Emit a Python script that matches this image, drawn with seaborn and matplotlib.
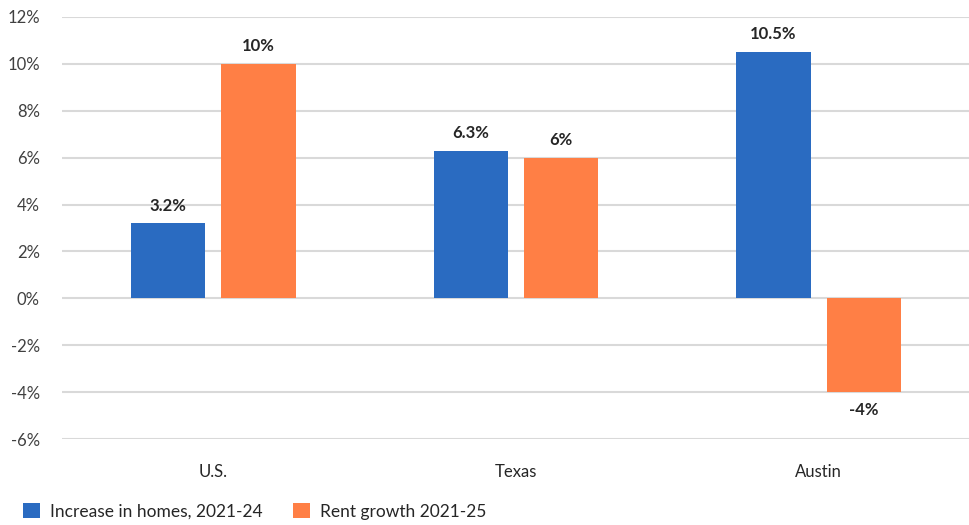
import matplotlib
matplotlib.use("Agg")
import matplotlib.pyplot as plt
import seaborn as sns
import pandas as pd
from matplotlib.patches import Patch

regions = ["U.S.", "Texas", "Austin"]
series_names = ["Increase in homes, 2021-24", "Rent growth 2021-25"]
homes = [3.2, 6.3, 10.5]
rent = [10, 6, -4]
homes_labels = ["3.2%", "6.3%", "10.5%"]
rent_labels = ["10%", "6%", "-4%"]
yticks = [-6, -4, -2, 0, 2, 4, 6, 8, 10, 12]

colors = ["#2A6BC1", "#FF7F45"]

df = pd.DataFrame({
    "region": regions * 2,
    "series": [series_names[0]] * 3 + [series_names[1]] * 3,
    "value": homes + rent,
})

sns.set_style("white")
plt.rcParams["font.family"] = ["Lato", "DejaVu Sans"]

fig = plt.figure(figsize=(9.7, 5.25), dpi=100)
ax = fig.add_axes([62 / 970, 1 - 439 / 525, 1 - 62 / 970, (439 - 17) / 525])

sns.barplot(data=df, x="region", y="value", hue="series", order=regions,
            hue_order=series_names, palette=colors, width=0.596, gap=0.178,
            ax=ax, legend=False, saturation=1, linewidth=0, edgecolor="none")

ax.set_ylim(-6, 12)
ax.set_xlim(-0.5, 2.5)
ax.set_yticks(yticks)
ax.set_yticklabels([f"{t}%" for t in yticks])
ax.set_xlabel("")
ax.set_ylabel("")
for s in ax.spines.values():
    s.set_visible(False)
ax.set_axisbelow(True)
ax.yaxis.grid(True, color="#D9D9D9", linewidth=1.5)
ax.xaxis.grid(False)
ax.tick_params(axis="y", length=0, pad=16, labelsize=12, labelcolor="#404040")
ax.tick_params(axis="x", length=0, pad=18, labelsize=12, labelcolor="#262626")

label_sets = [homes_labels, rent_labels]
for container, labels in zip(ax.containers, label_sets):
    ax.bar_label(container, labels=labels, padding=7, fontsize=12,
                 fontweight="bold", color="#262626")

handles = [Patch(facecolor=c, edgecolor="none") for c in colors]
fig.legend(handles, series_names, loc="lower left", bbox_to_anchor=(0.008, -0.02),
           ncol=2, frameon=False, fontsize=12.5, handlelength=0.95, handleheight=0.95,
           columnspacing=1.75, handletextpad=0.6, labelcolor="#262626")

fig.savefig("out.png", dpi=100)
